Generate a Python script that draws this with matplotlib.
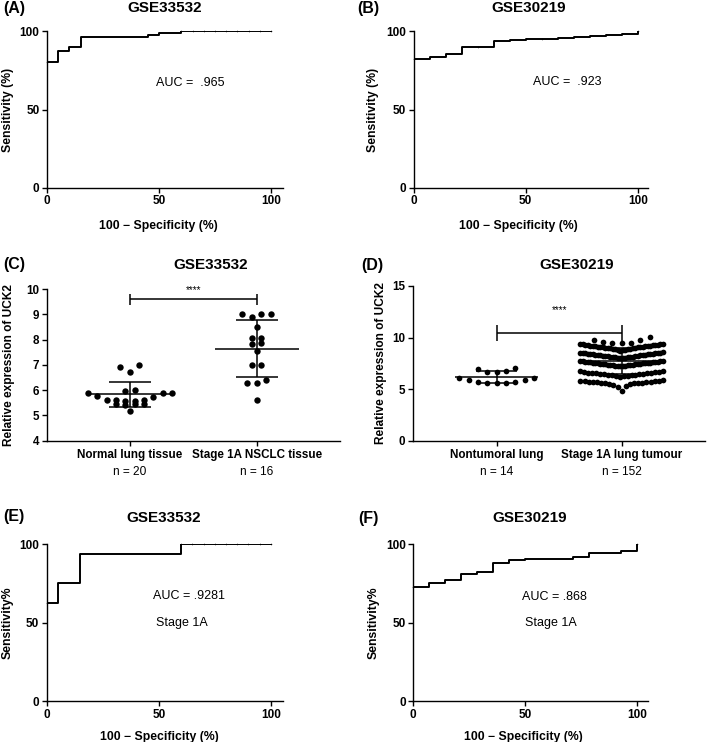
import numpy as np
import matplotlib
matplotlib.use("Agg")
import matplotlib.pyplot as plt
import matplotlib.transforms as mtransforms

plt.rcParams.update({
    "font.family": ["Liberation Sans", "DejaVu Sans"],
    "axes.linewidth": 1.0,
    "axes.spines.top": False,
    "axes.spines.right": False,
})

# ---- data -----------------------------------------------------------------
# ROC curves: 100 - specificity (%) vs sensitivity (%)
ROC_A_FPR = [0, 5, 10, 15, 45, 50, 60, 65, 70, 75, 80, 85, 90, 95, 100]
ROC_A_TPR = [80, 87.5, 90, 96.25, 97.5, 98.75, 100, 100, 100, 100, 100, 100, 100, 100, 100]
ROC_B_FPR = [0, 7.14, 14.29, 21.43, 28.57, 35.71, 42.86, 50, 57.14, 64.29, 71.43, 78.57, 85.71, 92.86, 100]
ROC_B_TPR = [82.2, 83.6, 85.5, 89.5, 90.1, 93.4, 94.1, 94.7, 95.0, 95.4, 96.1, 97.0, 97.2, 98.0, 100]
ROC_E_FPR = [0, 5, 15, 60, 65, 70, 75, 80, 85, 90, 95, 100]
ROC_E_TPR = [62.5, 75, 93.75, 100, 100, 100, 100, 100, 100, 100, 100, 100]
ROC_F_FPR = [0, 7.14, 14.29, 21.43, 28.57, 35.71, 42.86, 50, 71.43, 78.57, 92.86, 100]
ROC_F_TPR = [73, 75.5, 77.2, 81.0, 82.5, 88.3, 90.1, 90.6, 92.1, 94.2, 95.7, 100]

AUC_TEXT = {"A": "AUC =  .965", "B": "AUC =  .923", "E": "AUC = .9281", "F": "AUC = .868"}

# UCK2 expression, GSE33532
C_NORMAL = [6.9, 7.0, 6.73, 5.98, 6.01, 5.87, 5.77, 5.62, 5.6, 5.56, 5.57, 5.6, 5.72, 5.87,
            5.9, 5.47, 5.43, 5.45, 5.47, 5.18]
C_TUMOUR = [9.02, 8.88, 9.0, 9.02, 8.51, 8.05, 8.05, 7.81, 7.85, 7.56, 7.0, 7.0, 6.3, 6.27,
            6.4, 5.61]
C_CATS = ["Normal lung tissue", "Stage 1A NSCLC tissue"]
C_N = ["n = 20", "n = 16"]

# UCK2 expression, GSE30219
D_NORMAL = [6.95, 6.69, 6.69, 6.79, 7.08, 6.11, 5.89, 5.72, 5.57, 5.57, 5.57, 5.72, 5.89, 6.05]
D_TUMOUR = [
    9.47, 9.5, 9.52, 9.6, 9.77, 9.8, 10.08,
    8.74, 8.78, 8.81, 8.82, 8.85, 8.88, 8.9, 8.91, 8.94, 8.97, 8.98, 9.0, 9.03, 9.04, 9.06,
    9.08, 9.09, 9.11, 9.13, 9.14, 9.16, 9.18, 9.19, 9.21, 9.23, 9.24, 9.26, 9.28, 9.29, 9.31,
    9.33, 9.35, 9.37, 9.41,
    7.98, 8.01, 8.03, 8.05, 8.07, 8.09, 8.11, 8.12, 8.14, 8.16, 8.18, 8.2, 8.21, 8.23, 8.25,
    8.27, 8.28, 8.3, 8.32, 8.33, 8.35, 8.37, 8.38, 8.4, 8.42, 8.43, 8.45, 8.47, 8.48, 8.5,
    8.51, 8.53, 8.55, 8.58,
    7.2, 7.23, 7.25, 7.27, 7.29, 7.3, 7.32, 7.34, 7.35, 7.37, 7.38, 7.4, 7.42, 7.43, 7.45,
    7.46, 7.48, 7.49, 7.51, 7.52, 7.54, 7.55, 7.57, 7.58, 7.6, 7.61, 7.62, 7.64, 7.65, 7.66,
    7.68, 7.69, 7.71, 7.73,
    6.18, 6.24, 6.27, 6.3, 6.33, 6.36, 6.38, 6.41, 6.43, 6.46, 6.48, 6.5, 6.52, 6.55, 6.57,
    6.59, 6.61, 6.63, 6.66, 6.68, 6.71, 6.74,
    4.85, 5.22, 5.3, 5.42, 5.47, 5.52, 5.55, 5.58, 5.6, 5.62, 5.64, 5.66, 5.68, 5.7, 5.72,
    5.74, 5.76, 5.78, 5.8, 5.83, 5.86,
]
D_CATS = ["Nontumoral lung", "Stage 1A lung tumour"]
D_N = ["n = 14", "n = 152"]

# ---- layout (pixels of the 709x742 canvas) ---------------------------------
W, H = 709, 742
# row bins used to spread the dots sideways (GraphPad-like scatter)
ROWS_C = ([5.0, 5.3, 5.5, 5.95, 6.5, 7.5], [5.4, 6.0, 6.7, 7.3, 7.7, 7.95, 8.3, 8.7, 9.2])
ROWS_D = ([5.4, 6.4, 7.4], [4.5, 6.0, 6.95, 7.85, 8.65, 9.45, 10.5])

fig = plt.figure(figsize=(W / 100, H / 100), dpi=100)


def px_axes(left, top, right, bottom):
    return fig.add_axes([left / W, 1 - bottom / H, (right - left) / W, (bottom - top) / H])


def bold_ticks(ax, size=8.5):
    ax.tick_params(direction="out", length=3.6, width=1.0, labelsize=size, pad=1.8)
    for lab in ax.get_xticklabels() + ax.get_yticklabels():
        lab.set_fontweight("bold")


def head(x, y, label):
    fig.text(x / W, 1 - y / H, label, ha="left", va="center", fontsize=11.5, fontweight="bold")


def title(x, y, text):
    fig.text(x / W, 1 - y / H, text, ha="center", va="center", fontsize=11, fontweight="bold")


def roc_panel(ax, fpr, tpr, xmax, ylab, auc, auc_xy, stage_xy=None):
    ax.plot(fpr, tpr, drawstyle="steps-post", color="black", lw=1.4)
    ax.plot(fpr, tpr, "o", color="black", ms=1.1, mew=0, clip_on=False)
    ax.set_xlim(0, xmax)
    ax.set_ylim(0, 100)
    ax.set_xticks([0, 50, 100])
    ax.set_yticks([0, 50, 100])
    bold_ticks(ax)
    ax.set_xlabel("100 \u2212 Specificity (%)", fontsize=8.8, fontweight="bold")
    ax.set_ylabel(ylab, fontsize=8.8, fontweight="bold", va="center")
    ax.text(auc_xy[0], auc_xy[1], auc, ha="center", va="center", fontsize=9)
    if stage_xy is not None:
        ax.text(stage_xy[0], stage_xy[1], "Stage 1A", ha="center", va="center", fontsize=9)


def swarm_offsets(values, edges, dx=0.075, half=0.33):
    v = np.asarray(values, float)
    off = np.zeros(v.size)
    rows = np.digitize(v, edges)
    for r in np.unique(rows):
        idx = np.where(rows == r)[0]
        idx = idx[np.argsort(v[idx], kind="stable")]
        k = len(idx)
        step = dx if k < 2 else min(dx, 2 * half / (k - 1))
        pos = (np.arange(k) - (k - 1) / 2) * step
        pos = pos[np.argsort(np.abs(pos) + 1e-9 * (pos > 0), kind="stable")]
        off[idx] = pos
    return off


def dot_panel(ax, groups, rows, ms):
    for i, (vals, edges) in enumerate(zip(groups, rows)):
        vals = np.asarray(vals, float)
        ax.plot(i + swarm_offsets(vals, edges), vals, "o", color="black", ms=ms,
                mew=0, zorder=3, clip_on=False)
        m, s = vals.mean(), vals.std(ddof=1)
        kw = dict(color="black", lw=1.1, zorder=4, solid_capstyle="butt")
        ax.plot([i - 0.33, i + 0.33], [m, m], **kw)
        ax.plot([i - 0.165, i + 0.165], [m + s, m + s], **kw)
        ax.plot([i - 0.165, i + 0.165], [m - s, m - s], **kw)
        ax.plot([i, i], [m - s, m + s], **kw)


def bracket(ax, y, tick, star_y):
    kw = dict(color="black", lw=1.1, solid_capstyle="butt")
    ax.plot([0, 1], [y, y], **kw)
    ax.plot([0, 0], [y - tick, y + tick], **kw)
    ax.plot([1, 1], [y - tick, y + tick], **kw)
    ax.text(0.5, star_y, "****", ha="center", va="center", fontsize=7)


def cat_labels(ax, cats, ns, n_y):
    ax.set_xticks(range(len(cats)))
    ax.set_xticklabels(cats)
    bold_ticks(ax, 8.4)
    ax.tick_params(axis="x", pad=2.5)
    tr = mtransforms.blended_transform_factory(ax.transData, ax.transAxes)
    for i, n in enumerate(ns):
        ax.text(i, n_y, n, transform=tr, ha="center", va="center", fontsize=8.6)


# (A) ROC GSE33532
ax = px_axes(47, 31, 283, 188)
roc_panel(ax, ROC_A_FPR, ROC_A_TPR, 105.4, "Sensitivity (%)", AUC_TEXT["A"], (63.8, 66.7))
ax.yaxis.set_label_coords(-0.1665, 0.5)
ax.xaxis.set_label_coords(0.47, -0.204)
head(3, 8, "(A)")
title(165, 8, "GSE33532")

# (B) ROC GSE30219
ax = px_axes(413.7, 31, 648, 188)
roc_panel(ax, ROC_B_FPR, ROC_B_TPR, 104.6, "Sensitivity (%)", AUC_TEXT["B"], (68.7, 67.7))
ax.yaxis.set_label_coords(-0.174, 0.5)
ax.xaxis.set_label_coords(0.446, -0.204)
head(357, 8, "(B)")
title(529, 8, "GSE30219")

# (C) scatter GSE33532
ax = px_axes(46.7, 289, 340, 440.7)
dot_panel(ax, [C_NORMAL, C_TUMOUR], ROWS_C, 4.6)
bracket(ax, 9.59, 0.23, 9.96)
ax.set_xlim(-0.657, 1.657)
ax.set_ylim(4, 10)
ax.set_yticks(range(4, 11))
cat_labels(ax, C_CATS, C_N, -0.2044)
ax.set_ylabel("Relative expression of UCK2", fontsize=8.6, fontweight="bold", va="center")
ax.yaxis.set_label_coords(-0.1297, 0.5)
head(3, 264, "(C)")
title(211, 265, "GSE33532")

# (D) scatter GSE30219
ax = px_axes(412.7, 286, 705, 440.7)
dot_panel(ax, [D_NORMAL, D_TUMOUR], ROWS_D, 4.1)
bracket(ax, 10.42, 0.8, 12.68)
ax.set_xlim(-0.672, 1.666)
ax.set_ylim(0, 15)
ax.set_yticks([0, 5, 10, 15])
cat_labels(ax, D_CATS, D_N, -0.2004)
ax.set_ylabel("Relative expression of UCK2", fontsize=8.6, fontweight="bold", va="center")
ax.yaxis.set_label_coords(-0.1078, 0.5)
head(361, 265, "(D)")
title(577, 265, "GSE30219")

# (E) ROC GSE33532 stage 1A
ax = px_axes(46.7, 544.3, 283, 701)
roc_panel(ax, ROC_E_FPR, ROC_E_TPR, 105.4, "Sensitivity%", AUC_TEXT["E"], (63.4, 67.0), (60.2, 50.0))
ax.yaxis.set_label_coords(-0.165, 0.5)
ax.xaxis.set_label_coords(0.476, -0.19)
head(3, 517, "(E)")
title(164, 518, "GSE33532")

# (F) ROC GSE30219 stage 1A
ax = px_axes(413.3, 544.3, 647.7, 701)
roc_panel(ax, ROC_F_FPR, ROC_F_TPR, 104.9, "Sensitivity%", AUC_TEXT["F"], (63.2, 66.6), (61.5, 49.6))
ax.yaxis.set_label_coords(-0.168, 0.5)
ax.xaxis.set_label_coords(0.47, -0.19)
head(358, 518, "(F)")
title(530, 518, "GSE30219")

fig.savefig("out.png", dpi=100)
